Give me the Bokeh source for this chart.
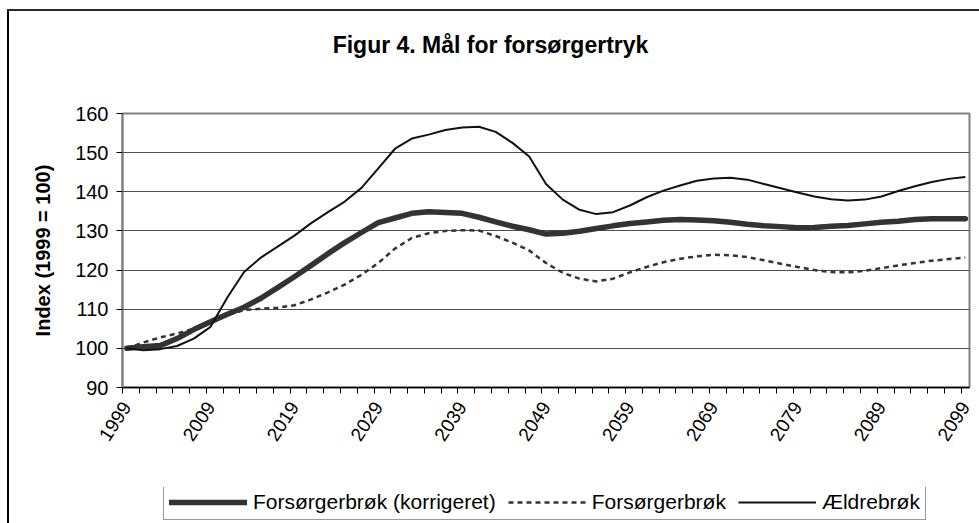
import math
from bokeh.plotting import figure
from bokeh.models import (Range1d, FixedTicker, Legend, LegendItem, Label)
from bokeh.layouts import column
from bokeh.embed import file_html
from bokeh.resources import INLINE

# ---- data ----
years = [1999, 2001, 2003, 2005, 2007, 2009, 2011, 2013, 2015, 2017,
         2019, 2021, 2023, 2025, 2027, 2029, 2031, 2033, 2035, 2037,
         2039, 2041, 2043, 2045, 2047, 2049, 2051, 2053, 2055, 2057,
         2059, 2061, 2063, 2065, 2067, 2069, 2071, 2073, 2075, 2077,
         2079, 2081, 2083, 2085, 2087, 2089, 2091, 2093, 2095, 2097, 2099]

forsorger_korr = [100, 100.4, 100.7, 102.5, 104.8, 106.8, 108.7, 110.5, 112.8, 115.5,
                  118.3, 121.2, 124.2, 127.0, 129.6, 132.1, 133.3, 134.5, 134.9, 134.7,
                  134.5, 133.5, 132.3, 131.2, 130.3, 129.2, 129.4, 129.9, 130.6, 131.3,
                  131.9, 132.3, 132.7, 132.9, 132.8, 132.6, 132.2, 131.7, 131.3, 131.1,
                  130.8, 130.9, 131.2, 131.4, 131.8, 132.2, 132.5, 132.9, 133.1, 133.1, 133.1]

forsorger = [100, 101.5, 102.8, 103.8, 105.0, 106.5, 108.5, 109.8, 110.1, 110.4,
             111.0, 112.5, 114.3, 116.3, 118.8, 121.8, 125.5, 128.2, 129.4, 130.0,
             130.2, 130.1, 128.7, 127.0, 125.0, 121.8, 119.3, 117.8, 117.1, 117.8,
             119.4, 120.8, 122.0, 122.9, 123.5, 123.9, 123.8, 123.3, 122.5, 121.6,
             120.8, 120.0, 119.5, 119.4, 119.8, 120.5, 121.2, 121.8, 122.4, 122.8, 123.2]

aeldre = [100, 99.5, 99.8, 100.6, 102.5, 105.5, 113.0, 119.5, 123.2, 126.0,
          128.8, 132.0, 134.8, 137.5, 141.0, 146.0, 151.0, 153.6, 154.6, 155.8,
          156.4, 156.6, 155.3, 152.5, 149.0, 142.0, 138.0, 135.4, 134.3, 134.8,
          136.5, 138.6, 140.3, 141.6, 142.8, 143.4, 143.6, 143.1, 142.0, 140.9,
          139.8, 138.8, 138.1, 137.8, 138.0, 138.8, 140.2, 141.4, 142.5, 143.3, 143.8]

label_years = list(range(1999, 2100, 10))
y_ticks = [90, 100, 110, 120, 130, 140, 150, 160]
title_text = "Figur 4. Mål for forsørgertryk"
y_title = "Index (1999 = 100)"
series_names = ["Forsørgerbrøk (korrigeret)", "Forsørgerbrøk", "Ældrebrøk"]

FONT = "Liberation Sans"
STYLES = [dict(line_color="#333333", line_width=5.5, line_join="round", line_cap="round"),
          dict(line_color="#333333", line_width=2.5, line_dash="5 4"),
          dict(line_color="#111111", line_width=2, line_join="round")]

# ---- title strip ----
tf = figure(width=979, height=60, output_backend="svg", toolbar_location=None,
            x_range=Range1d(0, 1), y_range=Range1d(0, 1),
            x_axis_type=None, y_axis_type=None, min_border=0)
tf.grid.visible = False
tf.outline_line_color = None
tf.background_fill_alpha = 0
tf.border_fill_alpha = 0
tf.add_layout(Label(x=368, y=16, x_units="screen", y_units="screen",
                    text=title_text, text_align="center", text_baseline="middle",
                    text_font=FONT, text_font_size="23px", text_font_style="bold",
                    text_color="black"))

# ---- main chart ----
p = figure(width=979, height=427, output_backend="svg", toolbar_location=None,
           x_range=Range1d(1998.5, 2099.5), y_range=Range1d(90, 160),
           min_border_left=122, min_border_right=10, min_border_top=53,
           min_border_bottom=100)
p.background_fill_color = "white"
p.border_fill_alpha = 0
p.outline_line_color = "#808080"
p.outline_line_width = 2

# grid
p.xgrid.visible = False
p.ygrid.ticker = FixedTicker(ticks=y_ticks)
p.ygrid.grid_line_color = "#4d4d4d"
p.ygrid.grid_line_width = 1.2

# y axis
p.yaxis.ticker = FixedTicker(ticks=y_ticks)
p.yaxis.axis_label = y_title
p.yaxis.axis_label_text_font = FONT
p.yaxis.axis_label_text_font_size = "20px"
p.yaxis.axis_label_text_font_style = "bold"
p.yaxis.axis_label_text_color = "black"
p.yaxis.axis_label_standoff = 18
p.yaxis.major_label_text_font = FONT
p.yaxis.major_label_text_font_size = "20px"
p.yaxis.major_label_text_color = "black"
p.yaxis.major_label_standoff = 8
p.yaxis.major_tick_out = 6
p.yaxis.major_tick_in = 0
p.yaxis.minor_tick_out = 0
p.yaxis.minor_tick_in = 0
p.yaxis.axis_line_color = "#808080"
p.yaxis.axis_line_width = 2
p.yaxis.major_tick_line_color = "black"

# x axis
minor = [1998.5 + 2 * k for k in range(51)]
p.xaxis.ticker = FixedTicker(ticks=label_years, minor_ticks=minor)
p.xaxis.major_tick_out = 0
p.xaxis.major_tick_in = 0
p.xaxis.minor_tick_out = 6
p.xaxis.minor_tick_in = 0
p.xaxis.minor_tick_line_color = "black"
p.xaxis.axis_line_color = "black"
p.xaxis.axis_line_width = 1.5
p.xaxis.major_label_orientation = 0.99
p.xaxis.major_label_text_font = FONT
p.xaxis.major_label_text_font_size = "19px"
p.xaxis.major_label_text_color = "black"
p.xaxis.major_label_standoff = 10

p.line(years, forsorger_korr, **STYLES[0])
p.line(years, forsorger, **STYLES[1])
p.line(years, aeldre, **STYLES[2])

# ---- legend strip (separate figure below the chart) ----
lg = figure(width=979, height=36, output_backend="svg", toolbar_location=None,
            x_range=Range1d(0, 1), y_range=Range1d(0, 1),
            x_axis_type=None, y_axis_type=None, min_border=0)
lg.grid.visible = False
lg.outline_line_color = None
lg.background_fill_alpha = 0
lg.border_fill_alpha = 0
items = []
for name, st in zip(series_names, STYLES):
    rr = lg.line([-10, -9], [-10, -10], **st)   # off-screen; only for legend glyph
    items.append(LegendItem(label=name, renderers=[rr]))
legend = Legend(items=items, location=(41, 3), orientation="horizontal",
                glyph_width=78, glyph_height=20, label_standoff=6, spacing=12,
                padding=5, margin=0, label_height=20,
                label_text_font=FONT, label_text_font_size="21px",
                label_text_color="black",
                border_line_color="#333333", border_line_width=1.2,
                background_fill_color="white", background_fill_alpha=1)
lg.add_layout(legend)

layout = column(tf, p, lg, spacing=0)
# outer chart border (top and left edges visible in the reference)
layout.styles = {"background": "linear-gradient(#2a2a2a,#2a2a2a) 7px 9px / 972px 2px no-repeat, "
                               "linear-gradient(#000,#000) 7px 9px / 2px 514px no-repeat"}

open("out.html", "w").write(file_html(layout, INLINE))
